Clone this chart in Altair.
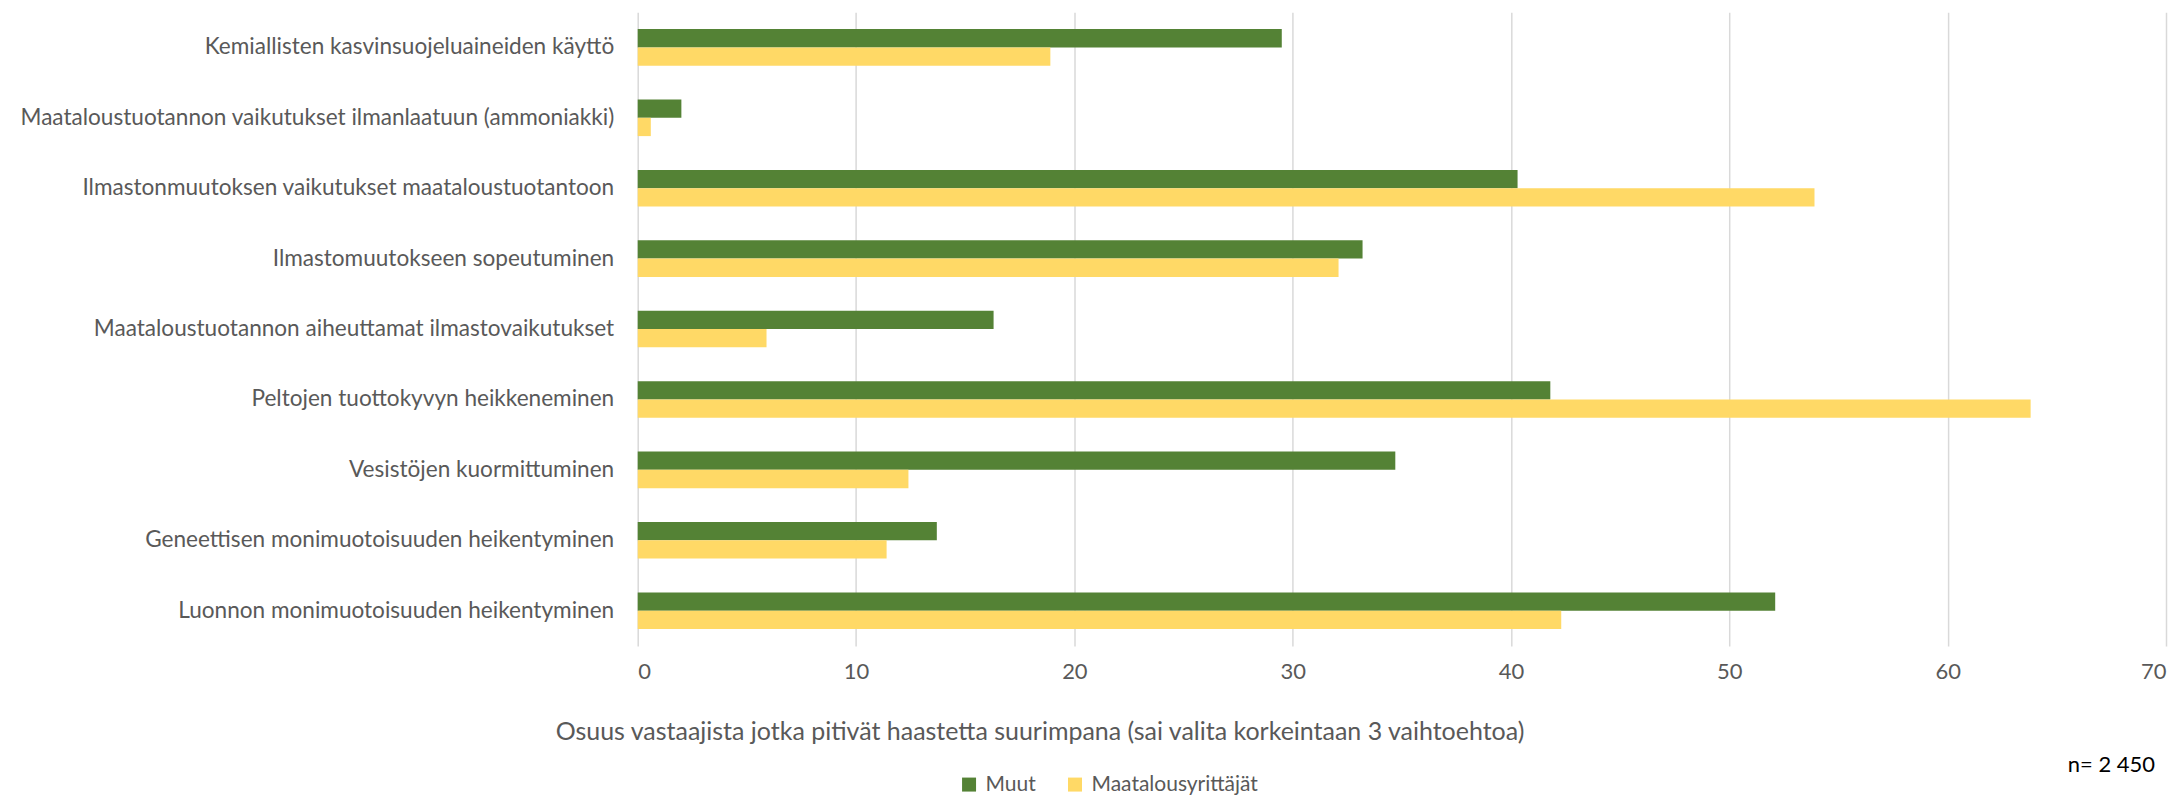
import altair as alt
import pandas as pd

categories = [
    "Kemiallisten kasvinsuojeluaineiden käyttö",
    "Maataloustuotannon vaikutukset ilmanlaatuun (ammoniakki)",
    "Ilmastonmuutoksen vaikutukset maataloustuotantoon",
    "Ilmastomuutokseen sopeutuminen",
    "Maataloustuotannon aiheuttamat ilmastovaikutukset",
    "Peltojen tuottokyvyn heikkeneminen",
    "Vesistöjen kuormittuminen",
    "Geneettisen monimuotoisuuden heikentyminen",
    "Luonnon monimuotoisuuden heikentyminen",
]
muut = [29.5, 2.0, 40.3, 33.2, 16.3, 41.8, 34.7, 13.7, 52.1]
maatalous = [18.9, 0.6, 53.9, 32.1, 5.9, 63.8, 12.4, 11.4, 42.3]
series = ["Muut", "Maatalousyrittäjät"]
colors = ["#548235", "#FFD966"]
x_ticks = [0, 10, 20, 30, 40, 50, 60, 70]
x_title = "Osuus vastaajista jotka pitivät haastetta suurimpana (sai valita korkeintaan 3 vaihtoehtoa)"
note = ["n= 2 450"]

rows = []
for c, a, b in zip(categories, muut, maatalous):
    rows.append({"kategoria": c, "sarja": series[0], "arvo": a})
    rows.append({"kategoria": c, "sarja": series[1], "arvo": b})
df = pd.DataFrame(rows)

FONT = "Lato"
GREY = "#595959"

bars = alt.Chart(df).mark_bar().encode(
    x=alt.X(
        "arvo:Q",
        scale=alt.Scale(domain=[0, 70], nice=False),
        axis=alt.Axis(
            values=x_ticks,
            title=x_title,
            grid=True,
            gridColor="#d9d9d9",
            gridWidth=1.5,
            domain=False,
            ticks=False,
            labelPadding=16,
            labelFontSize=22,
            labelColor=GREY,
            labelFont=FONT,
            titleFont=FONT,
            titleFontSize=25,
            titleColor=GREY,
            titleFontWeight="normal",
            titleX=402,
            titleY=86,
            titleBaseline="middle",
            titleAlign="center",
        ),
    ),
    y=alt.Y(
        "kategoria:N",
        sort=categories,
        scale=alt.Scale(paddingInner=0.48, paddingOuter=0.24),
        axis=alt.Axis(
            title=None,
            domain=False,
            ticks=False,
            grid=False,
            labelPadding=24,
            labelFontSize=22.6,
            labelColor=GREY,
            labelFont=FONT,
            labelLimit=0,
        ),
    ),
    yOffset=alt.YOffset("sarja:N", sort=series, scale=alt.Scale(paddingInner=0, paddingOuter=0)),
    color=alt.Color(
        "sarja:N",
        sort=series,
        scale=alt.Scale(domain=series, range=colors),
        legend=alt.Legend(
            title=None,
            orient="none",
            legendX=321,
            legendY=762,
            direction="horizontal",
            symbolType="square",
            symbolSize=196,
            symbolStrokeWidth=0,
            symbolOpacity=1,
            labelFontSize=21,
            labelFont=FONT,
            labelColor=GREY,
            labelOffset=6,
            labelLimit=0,
            columnPadding=28,
            padding=0,
        ),
    ),
)

note_df = pd.DataFrame({"teksti": note})
note_text = alt.Chart(note_df).mark_text(
    align="right", baseline="middle", fontSize=22, font=FONT, color="#000000"
).encode(
    text="teksti:N",
    x=alt.value(1518),
    y=alt.value(753),
)

chart = alt.layer(bars, note_text).properties(
    width=1529,
    height=634,
    autosize=alt.AutoSizeParams(type="none"),
    padding={"left": 630, "top": 4, "right": 8, "bottom": 155},
).configure_view(strokeWidth=0)

chart.save("out.html", embed_options={"renderer": "svg", "actions": False})
